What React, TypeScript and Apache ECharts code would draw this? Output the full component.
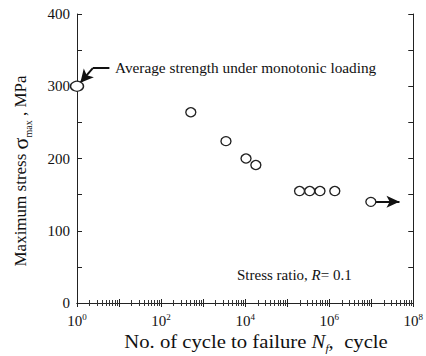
import React, { useEffect, useRef } from "react";
import * as echarts from "echarts";

// Fatigue data: cycles to failure vs. maximum stress (MPa)
const cycles = [1, 510, 3500, 10500, 18000, 197000, 344000, 604000, 1360000, 9800000];
const stress = [300, 264, 224, 200, 191, 155, 155, 155, 155, 140];

// Axis settings
const xMin = 1;
const xMax = 1e8;
const yMin = 0;
const yMax = 400;
const yStep = 100;

// Annotation arrows (data coordinates)
const runoutArrow = [[1.12e7, 140], [4.7e7, 140]];
const monoArrow = [[5.9, 325], [2.38, 325], [1.2, 305]];

const serif = '"Liberation Serif", "Times New Roman", serif';
const ink = "#111";

export default function App() {
  const ref = useRef<HTMLDivElement>(null);
  useEffect(() => {
    const chart = echarts.init(ref.current!, null, { renderer: "svg" });
    const axisLine = { show: true, lineStyle: { color: "#222", width: 1 } };
    const xLabel = {
      show: true,
      margin: 9,
      formatter: (v: number) => {
        const e = Math.round(Math.log10(v));
        return e % 2 === 0 ? `{b|10}{s|${e}}` : "";
      },
      rich: {
        b: { fontFamily: serif, fontSize: 15, color: ink, lineHeight: 16, verticalAlign: "bottom" },
        s: { fontFamily: serif, fontSize: 9, color: ink, lineHeight: 16, verticalAlign: "top" },
      },
    };
    const xCommon = {
      type: "log",
      logBase: 10,
      min: xMin,
      max: xMax,
      splitNumber: 8,
      axisLine,
      axisTick: { show: true, inside: true, length: 4, lineStyle: { color: "#222", width: 1 } },
      minorTick: { show: true, splitNumber: 9, length: 3, lineStyle: { color: "#333", width: 1 } },
      splitLine: { show: false },
      minorSplitLine: { show: false },
    };
    const yCommon = {
      type: "value",
      min: yMin,
      max: yMax,
      interval: yStep,
      axisLine,
      axisTick: { show: true, inside: true, length: 5, lineStyle: { color: "#222" } },
      minorTick: { show: true, splitNumber: 2, length: 5, lineStyle: { color: "#222" } },
      splitLine: { show: false },
    };
    const points = cycles.map((c, i) =>
      i === 0
        ? { value: [c, stress[i]], symbolSize: [13, 10] }
        : { value: [c, stress[i]] }
    );
    chart.setOption({
      animation: false,
      backgroundColor: "#fff",
      grid: { left: 77, right: 9, top: 14, bottom: 53, containLabel: false },
      xAxis: [
        { ...xCommon, position: "bottom", axisLabel: xLabel },
        { ...xCommon, position: "top", axisLabel: { show: false } },
      ],
      yAxis: [
        {
          ...yCommon,
          position: "left",
          axisLabel: { show: true, margin: 7, fontFamily: serif, fontSize: 15, color: ink },
        },
        { ...yCommon, position: "right", axisLabel: { show: false } },
      ],
      series: [
        {
          type: "scatter",
          data: points,
          symbol: "circle",
          symbolSize: [10, 9],
          clip: false,
          z: 5,
          itemStyle: { color: "#fff", borderColor: "#222", borderWidth: 1.3, opacity: 1 },
          emphasis: { disabled: true },
          markLine: {
            silent: true,
            animation: false,
            symbol: ["none", "none"],
            label: { show: false },
            emphasis: { disabled: true },
            lineStyle: { color: ink, width: 2, type: "solid" },
            data: [
              [
                { coord: runoutArrow[0], symbol: "none" },
                { coord: runoutArrow[1], symbol: "arrow", symbolSize: [9, 13] },
              ],
              [
                { coord: monoArrow[0], symbol: "none" },
                { coord: monoArrow[1], symbol: "none" },
              ],
              [
                { coord: monoArrow[1], symbol: "none" },
                { coord: monoArrow[2], symbol: "arrow", symbolSize: [10, 13] },
              ],
            ],
          },
        },
      ],
      graphic: [
        {
          type: "text",
          x: 115,
          y: 68,
          scaleX: 1.02,
          style: {
            text: "Average strength under monotonic loading",
            font: `15px ${serif}`,
            fill: ink,
            align: "left",
            verticalAlign: "middle",
          },
        },
        {
          type: "text",
          x: 237,
          y: 275,
          style: {
            text: "Stress ratio, {i|R}= 0.1",
            font: `15px ${serif}`,
            fill: ink,
            align: "left",
            verticalAlign: "middle",
            rich: { i: { fontFamily: serif, fontSize: 15, fontStyle: "italic", fill: ink } },
          },
        },
        {
          type: "text",
          x: 256,
          y: 342,
          scaleX: 1.15,
          style: {
            text: "No. of cycle to failure {i|N}{sub|f},  cycle",
            font: `18px ${serif}`,
            fill: ink,
            align: "center",
            verticalAlign: "middle",
            rich: {
              i: { fontFamily: serif, fontSize: 18, fontStyle: "italic", fill: ink, lineHeight: 22, verticalAlign: "middle" },
              sub: { fontFamily: serif, fontSize: 10, fontStyle: "italic", fill: ink, lineHeight: 22, verticalAlign: "bottom" },
            },
          },
        },
        {
          type: "text",
          x: 20,
          y: 171,
          rotation: Math.PI / 2,
          style: {
            text: "Maximum stress {g|σ}{sub|max} , MPa",
            font: `17px ${serif}`,
            fill: ink,
            align: "center",
            verticalAlign: "middle",
            rich: {
              g: { fontFamily: serif, fontSize: 22, fill: ink, lineHeight: 26, verticalAlign: "middle" },
              sub: { fontFamily: serif, fontSize: 10, fill: ink, lineHeight: 26, verticalAlign: "bottom" },
            },
          },
        },
      ],
    });
    return () => chart.dispose();
  }, []);
  return (
    <div
      ref={ref}
      style={{ position: "fixed", left: 0, top: 0, width: 426, height: 356, background: "#fff" }}
    />
  );
}
